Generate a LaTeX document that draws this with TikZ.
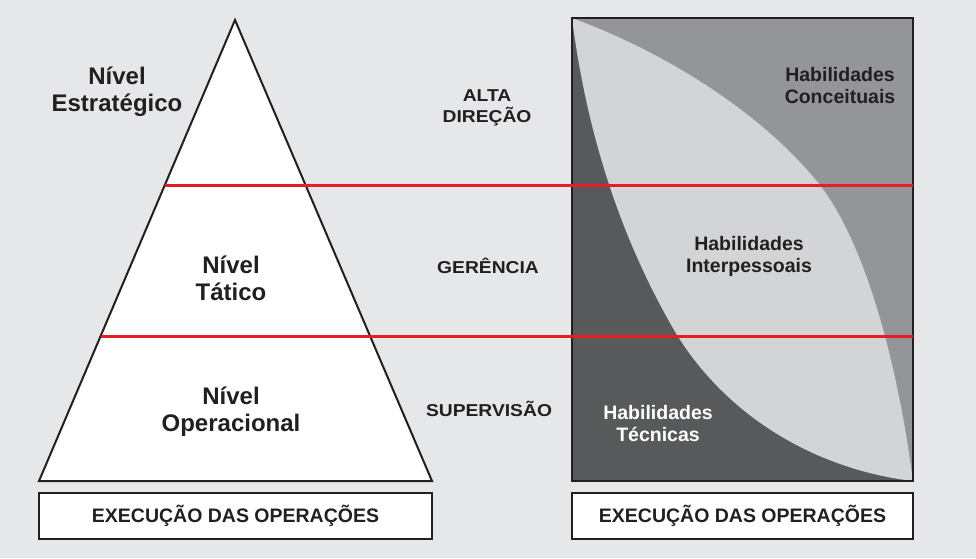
\documentclass[tikz,border=0pt]{standalone}
\usepackage{fontspec}
\setmainfont{Liberation Sans}
\newfontfamily\largo[FakeStretch=1.12]{Liberation Sans}
\usetikzlibrary{calc}
\definecolor{fundo}{HTML}{E6E7E8}
\definecolor{texto}{HTML}{231F20}
\definecolor{escuro}{HTML}{58595B}
\definecolor{medio}{HTML}{939598}
\definecolor{claro}{HTML}{D3D4D5}
\definecolor{vermelho}{HTML}{E41E26}

\begin{document}
\begin{tikzpicture}[x=1pt, y=-1pt,
	nivel/.style={font=\fontsize{24}{27}\selectfont\bfseries, text=texto, align=center, inner sep=0pt},
	cargo/.style={font=\largo\fontsize{17.2}{21.5}\selectfont\bfseries, text=texto, align=center, inner sep=0pt},
	habil/.style={font=\fontsize{19.5}{22}\selectfont\bfseries, text=texto, align=center, inner sep=0pt},
	caixa/.style={draw=texto, line width=2, fill=white, font=\fontsize{19.5}{22}\selectfont\bfseries, text=texto, minimum height=46pt}]
			%%%%% START %%%%%
			
			\fill[fundo] (0, 0) rectangle (976, 558);
			\useasboundingbox (0, 0) rectangle (976, 558);
			
			% piramide
			\coordinate (topo) at (235, 20);
			\coordinate (baseE) at (39, 481);
			\coordinate (baseD) at (432, 481);
			\draw[line width=2, fill=white, draw=texto] (topo) -- (baseD) -- (baseE) -- cycle;
			
			% quadro das habilidades
			\coordinate (qA) at (572, 18);
			\coordinate (qB) at (913, 481);
			\fill[escuro] (qA) rectangle (qB);
			\fill[medio] (qA) .. controls (660, 50) and (760, 110) .. (820, 185) .. controls (870, 250) and (900, 380) .. (qB) -- (qB |- qA) -- cycle;
			\fill[claro] (qA) .. controls (660, 50) and (760, 110) .. (820, 185) .. controls (870, 250) and (900, 380) .. (qB)
				.. controls (820, 470) and (730, 420) .. (677, 335) .. controls (615, 230) and (585, 120) .. (qA) -- cycle;
			\draw[line width=2, draw=texto] (qA) rectangle (qB);
			
			% linhas vermelhas
			\coordinate (corte1) at ($(topo)!0.358!(baseE)$);
			\coordinate (corte2) at ($(topo)!0.6855!(baseE)$);
			\draw[vermelho, line width=3] (corte1) -- (corte1 -| qB);
			\draw[vermelho, line width=3] (corte2) -- (corte2 -| qB);
			
			% textos
			\node[nivel] (estrategico) at (117, 92) {Nível\\Estratégico};
			\node[nivel] (tatico) at (231, 278) {Nível\\Tático};
			\node[nivel] (operacional) at (231, 412) {Nível\\Operacional};
			
			\node[cargo] (alta) at (487, 108) {ALTA\\DIREÇÃO};
			\node[cargo] (gerencia) at (488, 266) {GERÊNCIA};
			\node[cargo] (supervisao) at (489, 409) {SUPERVISÃO};
			
			\node[habil] (conceituais) at (840, 86) {Habilidades\\Conceituais};
			\node[habil] (interpessoais) at (749, 256) {Habilidades\\Interpessoais};
			\node[habil, text=white] (tecnicas) at (658, 424) {Habilidades\\Técnicas};
			
			\node[caixa, minimum width=393pt] (execE) at (235.5, 516) {EXECUÇÃO DAS OPERAÇÕES};
			\node[caixa, minimum width=341pt] (execD) at (742.5, 516) {EXECUÇÃO DAS OPERAÇÕES};
			
			%%%%% END %%%%%
\end{tikzpicture}
\end{document}
